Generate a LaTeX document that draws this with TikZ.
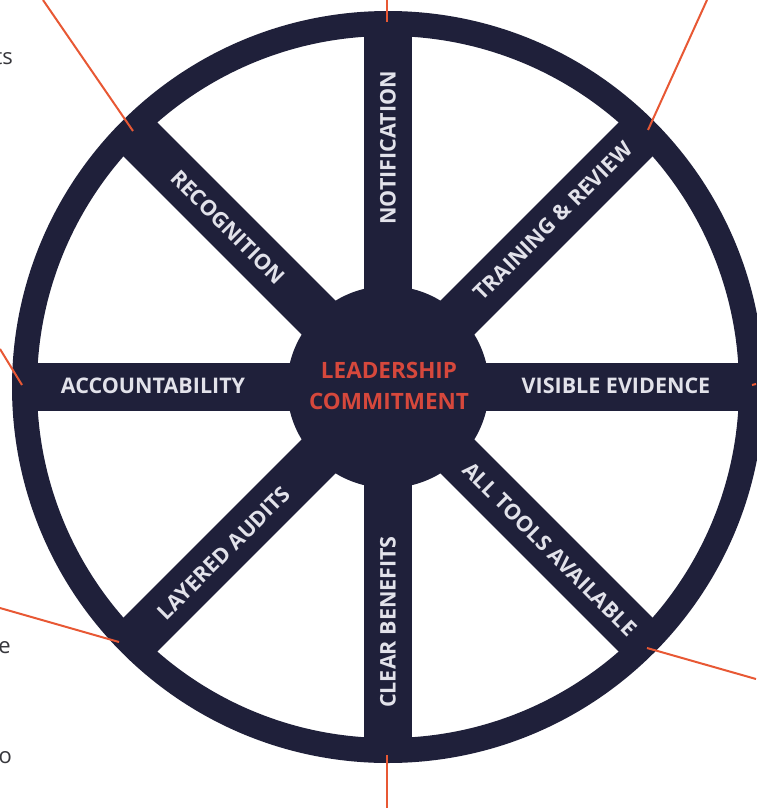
\documentclass[tikz,border=0pt]{standalone}
\usepackage{fontspec}
\setmainfont{Open Sans}
\begin{document}
\begin{tikzpicture}[x=1pt,y=-1pt]
\definecolor{navy}{RGB}{31,32,58}
\definecolor{lblgray}{RGB}{226,226,234}
\definecolor{hubred}{RGB}{214,72,60}
\definecolor{callout}{RGB}{232,88,52}
\definecolor{bodygray}{RGB}{55,55,60}
\tikzset{
  lbl/.style={text=lblgray, font=\bfseries\fontsize{21.5}{21.5}\selectfont, inner sep=0pt},
  hubtxt/.style={text=hubred, font=\bfseries\fontsize{22.5}{31}\selectfont, align=center, inner sep=0pt},
  sidetxt/.style={text=bodygray, font=\fontsize{22}{26}\selectfont, inner sep=0pt},
  callline/.style={draw=callout, line width=2pt}
}
\useasboundingbox (0,0) rectangle (756,808);
\fill[white] (0,0) rectangle (756,808);
\coordinate (c) at (388,387);
% wheel
\fill[navy, even odd rule] (c) circle (376pt) (c) circle (351pt);
\foreach \a in {0,45,...,315} \draw[navy, line width=48pt] (c) -- ++(\a:364pt);
\fill[navy] (c) circle (101pt);
% hub text
\node[hubtxt] (hub) at (389,386) {LEADERSHIP\\COMMITMENT};
% spoke labels
\node[lbl, rotate=90] (notif) at (388,148) {NOTIFICATION};
\node[lbl, rotate=-45] (recog) at (228,227) {RECOGNITION};
\node[lbl, rotate=45] (train) at (553,221) {TRAINING \& REVIEW};
\node[lbl] (visible) at (616,386) {VISIBLE EVIDENCE};
\node[lbl] (account) at (153,386) {ACCOUNTABILITY};
\node[lbl, rotate=-45] (tools) at (550,549) {ALL TOOLS AVAILABLE};
\node[lbl, rotate=90] (clear) at (388,622) {CLEAR BENEFITS};
\node[lbl, rotate=45] (layered) at (224,553) {LAYERED AUDITS};
% cut-off side text
\node[sidetxt, anchor=base east] (ts) at (13,65) {ts};
\node[sidetxt, anchor=base east] (e) at (11,653) {e};
\node[sidetxt, anchor=base east] (o) at (12,763) {o};
% callout lines
\coordinate (r1) at (133,131); \coordinate (f1) at (43,0);
\coordinate (r2) at (648,130); \coordinate (f2) at (707,0);
\coordinate (r3) at (387,22);  \coordinate (f3) at (387,0);
\coordinate (r4) at (22,385);  \coordinate (f4) at (0,349);
\coordinate (r5) at (119,642); \coordinate (f5) at (0,608);
\coordinate (r6) at (647,648); \coordinate (f6) at (756,679);
\coordinate (r7) at (387,755); \coordinate (f7) at (387,808);
\coordinate (r8) at (752,385); \coordinate (f8) at (756,384);
\foreach \i in {1,...,8} \draw[callline] (r\i) -- (f\i);
\end{tikzpicture}
\end{document}
